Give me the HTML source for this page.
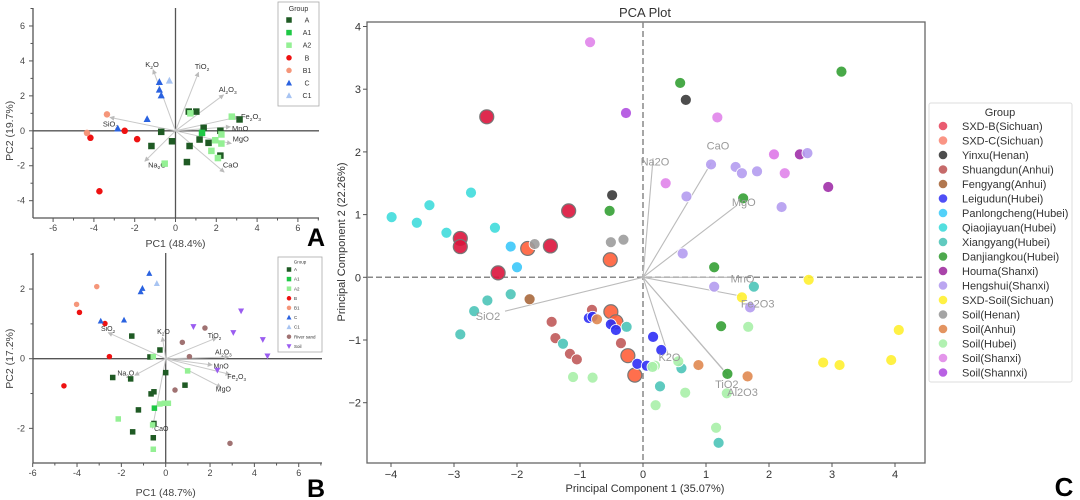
<!DOCTYPE html>
<html><head><meta charset="utf-8"><style>
html,body{margin:0;padding:0;background:#fff;}
svg{display:block;font-family:"Liberation Sans","DejaVu Sans",sans-serif;}
</style></head><body>
<svg id="fig" width="1080" height="500" viewBox="0 0 1080 500" xmlns="http://www.w3.org/2000/svg">
<defs>
<marker id="ah" viewBox="0 0 10 10" refX="9" refY="5" markerWidth="5" markerHeight="5" orient="auto"><path d="M0,0 L10,5 L0,10 z" fill="#bbb"/></marker>
</defs>
</svg>
<script>
// ---------- Panel A data ----------
const aGroups = ["A","A1","A2","B","B1","C","C1"];
const aX = [0.65,1.02,1.38,2.2,3.14,-0.7,-1.18,-0.17,0.69,1.18,1.62,2.2,0.56, 1.3, 0.73,2.76,2.25,1.95,2.25,1.76,2.08,-0.53, -2.49,-1.88,-4.17,-3.73, -3.36,-4.34, -0.79,-0.79,-0.7,-1.39,-2.83, -0.3];
const aY = [1.1,1.1,0.17,0,0.65,-0.06,-0.87,-0.6,-0.87,-0.5,-0.69,-1.42,-1.79, -0.12, 1.0,0.81,-0.21,-0.54,-0.73,-1.15,-1.56,-1.88, 0,-0.48,-0.4,-3.46, 0.94,-0.12, 2.79,2.35,2.02,0.67,0.13, 2.87];
const aG = [0,0,0,0,0,0,0,0,0,0,0,0,0, 1, 2,2,2,2,2,2,2,2, 3,3,3,3, 4,4, 5,5,5,5,5, 6];
const aLoadNames = ["K2O","TiO2","Al2O3","Fe2O3","MnO","MgO","CaO","Na2O","SiO2"];
const aLoadX = [-1.1,1.13,2.36,3.1,2.69,2.74,2.39,-1.51,-3.22];
const aLoadY = [3.5,3.35,2.06,0.8,0.23,-0.73,-2.37,-1.75,0.77];
const aLabX = [-1.15,1.3,2.56,3.7,3.17,3.2,2.7,-0.9,-3.19];
const aLabY = [3.83,3.7,2.38,0.85,0.15,-0.44,-1.92,-1.92,0.42];
const aXTicks = [-6,-4,-2,0,2,4,6];
const aYTicks = [-4,-2,0,2,4,6];
// ---------- Panel B data ----------
const bGroups = ["A","A1","A2","B","B1","C","C1","River sand","Soil"];
const bX = [-1.53,-0.26,-0.71,0,0.87,-2.39,-1.58,-0.53,-0.66,-1.23,-1.49,-0.53,-0.56, -0.51, -0.56,0.99,-0.26,-0.06,0.12,-2.14,-0.59,-0.56, -3.89,-2.74,-2.54,-4.59, -3.11,-4.02, -0.74,-1.05,-1.13,-1.88,-2.93, -0.4, 1.77,0.75,1.07,0.42,2.9, 1.25,3.05,3.4,4.38,4.59,2.33];
const bY = [0.65,0.25,0.05,-0.4,-0.76,-0.54,-0.58,-0.95,-1.01,-1.47,-2.1,-1.86,-2.27, -1.42, 0.06,-0.35,-1.3,-1.28,-1.28,-1.73,-1.9,-2.6, 1.33,1.01,0.06,-0.78, 2.07,1.56, 2.45,2.02,1.92,1.11,1.08, 2.16, 0.88,0.47,0.06,-0.9,-2.43, 0.92,0.75,1.37,0.55,0.08,-0.33];
const bG = [0,0,0,0,0,0,0,0,0,0,0,0,0, 1, 2,2,2,2,2,2,2,2, 3,3,3,3, 4,4, 5,5,5,5,5, 6, 7,7,7,7,7, 8,8,8,8,8,8];
const bLoadNames = ["SiO2","K2O","TiO2","Al2O3","MnO","Fe2O3","MgO","Na2O","CaO"];
const bLoadX = [-2.6,-0.15,2.3,2.85,2.1,2.9,2.5,-1.4,-0.6];
const bLoadY = [0.75,0.62,0.6,0.05,-0.18,-0.45,-0.82,-0.48,-2.0];
const bLabX = [-2.6,-0.1,2.2,2.6,2.5,3.2,2.6,-1.8,-0.2];
const bLabY = [0.88,0.8,0.68,0.2,-0.2,-0.5,-0.85,-0.4,-1.99];
const bXTicks = [-6,-4,-2,0,2,4,6];
const bYTicks = [-2,0,2];
// ---------- Panel C data ----------
const cGroups = ["SXD-B(Sichuan)","SXD-C(Sichuan)","Yinxu(Henan)","Shuangdun(Anhui)","Fengyang(Anhui)","Leigudun(Hubei)","Panlongcheng(Hubei)","Qiaojiayuan(Hubei)","Xiangyang(Hubei)","Danjiangkou(Hubei)","Houma(Shanxi)","Hengshui(Shanxi)","SXD-Soil(Sichuan)","Soil(Henan)","Soil(Anhui)","Soil(Hubei)","Soil(Shanxi)","Soil(Shannxi)"];
const cX = [-2.48,-1.18,-2.9,-2.9,-1.47,-2.3, -1.83,-0.52,-0.51,-0.43,-0.24,-0.13, 0.68,-0.49, -0.81,-1.45,-1.39,-1.16,-1.05,-0.35, -1.8, -0.86,-0.8,-0.51,-0.43,-0.09,0.06,0.16,0.29, -2.1,-2.0, -3.99,-3.59,-3.39,-3.12,-2.73,-2.35, -2.1,-2.47,-2.68,-2.9,-1.27,-0.26,1.76,0.61,0.27,1.2, 0.59,-0.53,1.13,1.24,1.34,1.59,3.15, 2.49,2.94, 0.69,1.13,1.7,1.08,1.47,1.57,1.81,2.2,0.63,2.61, 1.57,2.63,4.06,2.86,3.12,3.94, -0.51,-0.31,-1.72, -0.73,0.88,1.66, -1.11,-0.8,1.67,0.56,0.19,0.15,1.33,0.67,0.2,1.16, -0.84,0.36,1.18,2.07,2.25,2.08, -0.27];
const cY = [2.56,1.06,0.62,0.49,0.5,0.07, 0.46,0.28,-0.55,-0.71,-1.25,-1.56, 2.83,1.31, -0.52,-0.71,-0.97,-1.22,-1.31,-1.05, -0.35, -0.65,-0.63,-0.75,-0.84,-1.38,-1.41,-0.95,-1.16, 0.49,0.16, 0.96,0.87,1.15,0.71,1.35,0.79, -0.27,-0.37,-0.54,-0.91,-1.06,-0.79,-0.15,-1.45,-1.74,-2.64, 3.1,1.06,0.16,-0.78,-1.54,1.26,3.28, 1.96,1.44, 1.29,-0.15,-0.48,1.8,1.76,1.66,1.69,1.12,0.38,1.98, -0.32,-0.04,-0.84,-1.36,-1.4,-1.32, 0.56,0.6,0.53, -0.67,-1.4,-1.58, -1.59,-1.6,-0.79,-1.34,-1.41,-1.43,-1.85,-1.84,-2.04,-2.4, 3.75,1.5,2.55,1.96,1.66,1.96, 2.62];
const cG = [0,0,0,0,0,0, 1,1,1,1,1,1, 2,2, 3,3,3,3,3,3, 4, 5,5,5,5,5,5,5,5, 6,6, 7,7,7,7,7,7, 8,8,8,8,8,8,8,8,8,8, 9,9,9,9,9,9,9, 10,10, 11,11,11,11,11,11,11,11,11,11, 12,12,12,12,12,12, 13,13,13, 14,14,14, 15,15,15,15,15,15,15,15,15,15, 16,16,16,16,16,16, 17];
const cLoadNames = ["Na2O","CaO","MgO","MnO","Fe2O3","K2O","TiO2","Al2O3","SiO2"];
const cLoadX = [0.16,1.08,1.48,1.46,1.56,0.4,1.3,1.35,-2.19];
const cLoadY = [1.9,1.82,1.14,0,-0.3,-1.24,-1.51,-1.56,-0.54];
const cLabX = [0.19,1.19,1.6,1.58,1.82,0.42,1.33,1.58,-2.46];
const cLabY = [1.85,2.1,1.2,-0.02,-0.42,-1.27,-1.7,-1.83,-0.62];
const cXTicks = [-4,-3,-2,-1,0,1,2,3,4];
const cYTicks = [-2,-1,0,1,2,3,4];

const NS = "http://www.w3.org/2000/svg";
const svg = document.getElementById("fig");
function mk(tag, attrs, parent) {
  const e = document.createElementNS(NS, tag);
  for (const k in attrs) e.setAttribute(k, attrs[k]);
  (parent || svg).appendChild(e);
  return e;
}
function chemText(t, x, y, size, fill, anchor, parent, sub) {
  const e = mk("text", {x: x, y: y, "font-size": size, fill: fill, "text-anchor": anchor || "start"}, parent);
  if (!sub) { e.textContent = t; return e; }
  const parts = t.match(/[A-Za-z]+|\d+/g);
  parts.forEach(p => {
    const ts = document.createElementNS(NS, "tspan");
    if (/^\d+$/.test(p)) { ts.setAttribute("font-size", size * 0.65); ts.setAttribute("dy", size*0.25); }
    else { ts.setAttribute("dy", e.lastChild && e.lastChild.getAttribute("dy") && +e.lastChild.getAttribute("dy") > 0 ? -size*0.25 : 0); }
    ts.textContent = p;
    e.appendChild(ts);
  });
  return e;
}
function marker(shape, x, y, s, fill, parent) {
  let e;
  if (shape === "sq") e = mk("rect", {x: x - s/2, y: y - s/2, width: s, height: s, fill: fill}, parent);
  else if (shape === "ci") e = mk("circle", {cx: x, cy: y, r: s/2, fill: fill}, parent);
  else if (shape === "tu") e = mk("polygon", {points: `${x},${y-s*0.6} ${x-s*0.55},${y+s*0.45} ${x+s*0.55},${y+s*0.45}`, fill: fill}, parent);
  else e = mk("polygon", {points: `${x},${y+s*0.6} ${x-s*0.55},${y-s*0.45} ${x+s*0.55},${y-s*0.45}`, fill: fill}, parent);
  return e;
}

// ===== Biplot panels A and B =====
function biplot(cfg) {
  const g = mk("g", {});
  
  
  const X = v => cfg.x0 + cfg.sx * v, Y = v => cfg.y0 - cfg.sy * v;
  const ax = "#555";
  // zero lines and axes
  mk("line", {x1: cfg.left, x2: cfg.right, y1: Y(0), y2: Y(0), stroke: ax, "stroke-width": 1.3}, g);
  mk("line", {x1: X(0), x2: X(0), y1: cfg.top, y2: cfg.bottom, stroke: ax, "stroke-width": 1.3}, g);
  const xa = mk("line", {x1: cfg.left, x2: cfg.right, y1: cfg.bottom, y2: cfg.bottom, stroke: ax, "stroke-width": 1.3}, g);
  
  
  const ya = mk("line", {x1: cfg.left, x2: cfg.left, y1: cfg.top, y2: cfg.bottom, stroke: ax, "stroke-width": 1.3}, g);
  
  
  cfg.xt.forEach(t => {
    mk("line", {x1: X(t), x2: X(t), y1: cfg.bottom, y2: cfg.bottom + 4, stroke: ax}, g);
    mk("line", {x1: X(t+1), x2: X(t+1), y1: cfg.bottom, y2: cfg.bottom + 2.5, stroke: ax}, g);
    const tl = mk("text", {x: X(t), y: cfg.bottom + 13, "font-size": 9, fill: "#444", "text-anchor": "middle"}, g);
    tl.textContent = t;
    
    
  });
  cfg.yt.forEach(t => {
    mk("line", {x1: cfg.left - 4, x2: cfg.left, y1: Y(t), y2: Y(t), stroke: ax}, g);
    if (Y(t+1) > cfg.top) mk("line", {x1: cfg.left - 2.5, x2: cfg.left, y1: Y(t+1), y2: Y(t+1), stroke: ax}, g);
    const tl = mk("text", {x: cfg.left - 8, y: Y(t) + 3, "font-size": 9, fill: "#444", "text-anchor": "end"}, g);
    tl.textContent = t;
    
    
  });
  const xl = mk("text", {x: X(0), y: cfg.xlabY, "font-size": 10.5, fill: "#444", "text-anchor": "middle"}, g);
  xl.textContent = cfg.xlab;
  
  
  const yl = mk("text", {x: 0, y: 0, "font-size": 10.5, fill: "#444", "text-anchor": "middle", transform: `translate(13,${Y(0)}) rotate(-90)`}, g);
  yl.textContent = cfg.ylab;
  
  
  // loadings
  cfg.ln.forEach((n, i) => {
    const l = mk("line", {x1: X(0), y1: Y(0), x2: X(cfg.lx[i]), y2: Y(cfg.ly[i]), stroke: "#c8c8c8", "stroke-width": 1, "marker-end": "url(#ah)"}, g);
    
    
    const t = chemText(n, X(cfg.labx[i]), Y(cfg.laby[i]) + 3, cfg.lfs, "#333", "middle", g, true);
    
    
  });
  // points
  cfg.px.forEach((v, i) => {
    const st = cfg.styles[cfg.pg[i]];
    const m = marker(st[0], X(v), Y(cfg.py[i]), cfg.ms, st[1], g);
    
    
  });
  // legend
  const lg = mk("g", {}, g);
  
  
  mk("rect", {x: cfg.leg[0], y: cfg.leg[1], width: cfg.leg[2], height: cfg.leg[3], fill: "#fff", stroke: "#aaa", "stroke-width": 0.8}, lg);
  const gt = mk("text", {x: cfg.leg[0] + cfg.leg[2]/2, y: cfg.leg[1] + cfg.legFs + 2, "font-size": cfg.legFs, fill: "#333", "text-anchor": "middle"}, lg);
  gt.textContent = "Group";
  cfg.groups.forEach((n, i) => {
    const y = cfg.legY0 + i * cfg.legDy;
    const st = cfg.styles[i];
    const e = mk("g", {}, lg);
    
    
    marker(st[0], cfg.leg[0] + 11, y, cfg.legMs, st[1], e);
    const t = mk("text", {x: cfg.legTx, y: y + cfg.legFs*0.35, "font-size": cfg.legFs, fill: "#333", "text-anchor": cfg.legAnchor}, e);
    t.textContent = n;
  });
  const pl = mk("text", {x: cfg.plx, y: cfg.ply, "font-size": 25, "font-weight": "bold", fill: "#000", "text-anchor": "middle"}, g);
  pl.textContent = cfg.panel;
  
  
}
const abStyles = [["sq","#1f5a24"],["sq","#1ec845"],["sq","#94f094"],["ci","#ee1111"],["ci","#f5967a"],["tu","#2a62e0"],["tu","#a8c4f2"],["ci","#a07272"],["td","#9a5cf0"]];
biplot({name: "panel-a-biplot", panel: "A", x0: 175.5, sx: 20.4, y0: 130.8, sy: 17.47, left: 33, right: 319, top: 8, bottom: 218,
  xt: aXTicks, yt: aYTicks, xlab: "PC1 (48.4%)", ylab: "PC2 (19.7%)", xlabY: 247,
  ln: aLoadNames, lx: aLoadX, ly: aLoadY, labx: aLabX, laby: aLabY, lfs: 7.5,
  px: aX, py: aY, pg: aG, groups: aGroups, styles: abStyles, ms: 6.5,
  leg: [278, 2, 41, 104], legFs: 7, legY0: 20, legDy: 12.6, legMs: 5.5, legTx: 307, legAnchor: "middle", plx: 316, ply: 246});
biplot({name: "panel-b-biplot", panel: "B", x0: 165.7, sx: 22.17, y0: 358.7, sy: 34.83, left: 33, right: 322, top: 253, bottom: 463,
  xt: bXTicks, yt: bYTicks, xlab: "PC1 (48.7%)", ylab: "PC2 (17.2%)", xlabY: 496,
  ln: bLoadNames, lx: bLoadX, ly: bLoadY, labx: bLabX, laby: bLabY, lfs: 7,
  px: bX, py: bY, pg: bG, groups: bGroups, styles: abStyles, ms: 5.5,
  leg: [278, 257, 44, 95], legFs: 4.5, legY0: 269.5, legDy: 9.6, legMs: 4.5, legTx: 294, legAnchor: "start", plx: 316, ply: 497});

// ===== Panel C =====
(function(){
  const g = mk("g", {});
  
  
  const X = v => 643 + 63 * v, Y = v => 277.3 - 62.7 * v;
  const L = 367, R = 925, T = 22, B = 463;
  const title = mk("text", {x: 645, y: 17, "font-size": 13, fill: "#333", "text-anchor": "middle"}, g);
  title.textContent = "PCA Plot";
  
  
  const fr = mk("rect", {x: L, y: T, width: R-L, height: B-T, fill: "none", stroke: "#666", "stroke-width": 1.3}, g);
  
  
  mk("line", {x1: L, x2: R, y1: Y(0), y2: Y(0), stroke: "#888", "stroke-width": 1.5, "stroke-dasharray": "6,3"}, g);
  mk("line", {x1: X(0), x2: X(0), y1: T, y2: B, stroke: "#888", "stroke-width": 1.5, "stroke-dasharray": "6,3"}, g);
  cXTicks.forEach(t => {
    mk("line", {x1: X(t), x2: X(t), y1: B, y2: B + 4, stroke: "#555"}, g);
    const tl = mk("text", {x: X(t), y: B + 15, "font-size": 11, fill: "#333", "text-anchor": "middle"}, g);
    tl.textContent = t < 0 ? "\u2212" + (-t) : t;
    
    
  });
  cYTicks.forEach(t => {
    mk("line", {x1: L - 4, x2: L, y1: Y(t), y2: Y(t), stroke: "#555"}, g);
    const tl = mk("text", {x: L - 6, y: Y(t) + 4, "font-size": 11, fill: "#333", "text-anchor": "end"}, g);
    tl.textContent = t < 0 ? "\u2212" + (-t) : t;
    
    
  });
  const xl = mk("text", {x: 645, y: 492, "font-size": 11, fill: "#333", "text-anchor": "middle"}, g);
  xl.textContent = "Principal Component 1 (35.07%)";
  
  
  const yl = mk("text", {x: 0, y: 0, "font-size": 11, fill: "#333", "text-anchor": "middle", transform: "translate(345,242) rotate(-90)"}, g);
  yl.textContent = "Principal Component 2 (22.26%)";
  
  
  cLoadNames.forEach((n, i) => {
    const l = mk("line", {x1: X(0), y1: Y(0), x2: X(cLoadX[i]), y2: Y(cLoadY[i]), stroke: "#bbb", "stroke-width": 1.1}, g);
    
    
  });
  const cColors = ["#dc143c","#ff5f3a","#3a3a3a","#c05a5a","#a8683c","#2f2ff5","#3cc8fa","#40dcdc","#4cc4b8","#34a034","#a030a8","#b49cf0","#fff030","#9c9c9c","#e08850","#a8f0a8","#e084ea","#b050e0"];
  const cLegColors = ["#e84a62","#fa8a78","#3a3a3a","#c05a5a","#a8683c","#3c3cf5","#40ccf8","#40dcdc","#50c4b8","#3aa03a","#a030a0","#b49cf0","#fff030","#9a9a9a","#e08850","#a8f0a8","#e08ae8","#b050e0"];
  cX.forEach((v, i) => {
    const gi = cG[i];
    const big = gi <= 1;
    const c = mk("circle", {cx: X(v), cy: Y(cY[i]), r: big ? 7 : 5.5, fill: cColors[gi], "fill-opacity": 0.9, stroke: big ? "#777" : "#fff", "stroke-width": big ? 1.2 : 0.8}, g);
    
    
  });
  cLoadNames.forEach((n, i) => {
    const t = mk("text", {x: X(cLabX[i]), y: Y(cLabY[i]) + 4, "font-size": 11, fill: "#999", "text-anchor": "middle"}, g);
    t.textContent = n;
    
    
  });
  const lg = mk("g", {}, g);
  
  
  mk("rect", {x: 929, y: 103, width: 143, height: 279, fill: "#fff", stroke: "#ddd", "stroke-width": 1, rx: 2}, lg);
  const gt = mk("text", {x: 1000, y: 116, "font-size": 11, fill: "#333", "text-anchor": "middle"}, lg);
  gt.textContent = "Group";
  cGroups.forEach((n, i) => {
    const y = 126 + i * 14.5;
    const e = mk("g", {}, lg);
    
    
    mk("circle", {cx: 943, cy: y, r: 4.3, fill: cLegColors[i], "fill-opacity": 0.9}, e);
    const t = mk("text", {x: 962, y: y + 4, "font-size": 11, fill: "#333"}, e);
    t.textContent = n;
  });
  const pl = mk("text", {x: 1064, y: 496, "font-size": 26, "font-weight": "bold", fill: "#000", "text-anchor": "middle"}, g);
  pl.textContent = "C";
  
  
})();
</script>
</body></html>
